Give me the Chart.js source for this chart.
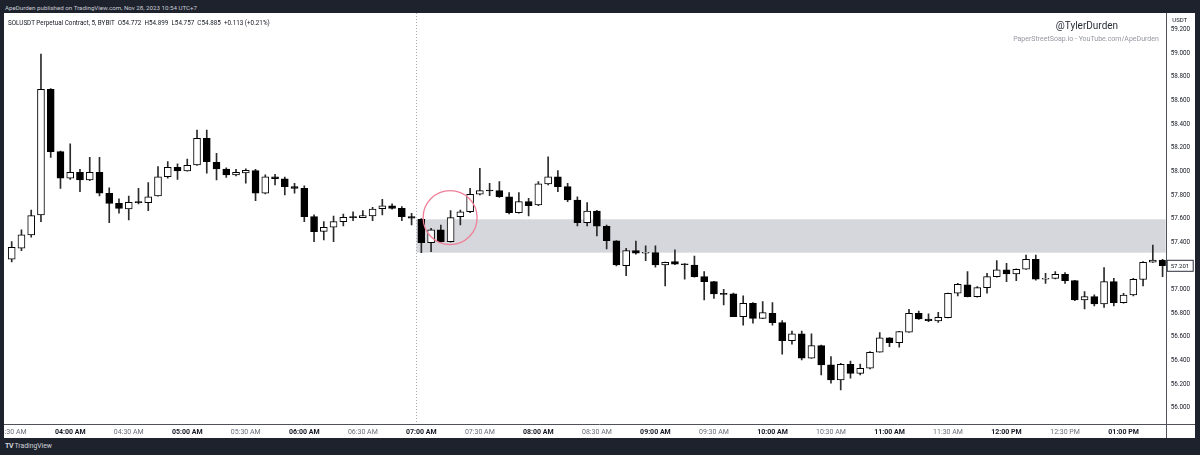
<!DOCTYPE html>
<html><head><meta charset="utf-8">
<script src="https://cdn.jsdelivr.net/npm/chart.js@4.4.0/dist/chart.umd.min.js"></script>
<style>
html,body{margin:0;padding:0;background:#1e222d;width:1200px;height:455px;overflow:hidden;font-family:Roboto,"Noto Sans",sans-serif;}
#top{position:absolute;left:5px;top:5px;font-size:6.2px;line-height:6px;color:#c9ccd4;white-space:pre;}
#panel{position:absolute;left:4px;top:13px;width:1191px;height:425px;background:#fff;}
#c{position:absolute;left:0;top:0;}
#hdr{position:absolute;left:4px;top:6.5px;font-size:6.3px;line-height:6px;color:#131722;white-space:pre;}
#wm1{position:absolute;left:1000px;width:166px;top:8px;text-align:center;font-size:10px;line-height:10px;color:#2a2e39;}
#wm2{position:absolute;left:949px;width:266px;top:23px;text-align:center;font-size:7px;line-height:7px;color:#9598a1;}
#bottom{position:absolute;left:5px;top:443px;font-size:6.8px;line-height:7px;color:#d1d4dc;white-space:pre;}
#bottom b{font-size:7px;letter-spacing:-0.5px;}
</style></head>
<body>
<div id="top">ApeDurden published on TradingView.com, Nov 28, 2023 10:54 UTC+7</div>
<div id="panel">
  <canvas id="c" width="1191" height="425"></canvas>
  <div id="hdr">SOLUSDT Perpetual Contract, 5, BYBIT  O54.772  H54.899  L54.757  C54.885  +0.113 (+0.21%)</div>
  <div id="wm1">@TylerDurden</div>
  <div id="wm2">PaperStreetSoap.io - YouTube.com/ApeDurden</div>
</div>
<div id="bottom"><b>TV</b> TradingView</div>
<script>
// ---- data (5-minute candles, SOLUSDT) ----
const opens = [57.256,57.349,57.462,57.631,58.693,58.166,57.941,57.992,57.926,57.992,57.814,57.729,57.681,57.738,57.735,57.791,57.954,58.034,58.003,58.053,
58.279,58.076,58.019,57.969,57.986,58.005,57.814,57.954,57.937,57.870,57.856,57.616,57.492,57.527,57.574,57.611,57.608,57.622,57.683,57.707,
57.687,57.616,57.594,57.396,57.504,57.405,57.616,57.658,57.806,57.836,57.836,57.785,57.650,57.743,57.715,57.893,57.954,57.870,57.757,57.566,
57.664,57.535,57.413,57.202,57.329,57.307,57.312,57.208,57.236,57.214,57.208,57.109,57.067,56.963,56.963,56.771,56.884,56.757,56.800,56.720,
56.568,56.625,56.419,56.526,56.363,56.236,56.368,56.292,56.335,56.470,56.593,56.551,56.640,56.800,56.751,56.735,56.763,56.969,57.040,56.940,
57.016,57.109,57.166,57.132,57.172,57.256,57.087,57.095,57.129,57.075,56.912,56.940,56.878,57.067,56.889,56.954,57.085,57.231,57.250];
const highs = [57.405,57.504,57.673,58.990,58.700,58.170,58.231,58.017,58.118,58.118,57.861,57.766,57.791,57.856,57.904,58.039,58.081,58.062,58.104,58.349,
58.349,58.152,58.030,58.017,58.020,58.017,57.969,57.975,57.950,57.899,57.876,57.631,57.574,57.622,57.639,57.658,57.667,57.696,57.763,57.724,
57.701,57.645,57.600,57.518,57.546,57.667,57.673,57.856,58.025,57.899,57.912,57.819,57.819,57.772,57.912,58.123,58.005,57.899,57.785,57.735,
57.670,57.545,57.415,57.349,57.410,57.370,57.370,57.233,57.335,57.220,57.284,57.151,57.070,57.003,56.970,56.946,56.890,56.898,56.890,56.737,
56.650,56.650,56.625,56.530,56.433,56.377,56.396,56.371,56.475,56.636,56.595,56.647,56.833,56.819,56.794,56.808,56.970,57.053,57.151,57.025,
57.138,57.244,57.222,57.175,57.292,57.292,57.138,57.151,57.143,57.078,56.982,56.955,57.185,57.095,56.969,57.095,57.236,57.377,57.255];
const lows = [57.233,57.329,57.442,57.574,58.118,57.856,57.932,57.828,57.920,57.791,57.566,57.645,57.588,57.724,57.667,57.790,57.941,57.932,58.000,58.050,
57.983,57.926,57.949,57.960,57.899,57.751,57.808,57.884,57.800,57.814,57.574,57.405,57.419,57.405,57.538,57.582,57.607,57.582,57.631,57.679,
57.582,57.546,57.312,57.320,57.400,57.400,57.546,57.650,57.800,57.794,57.780,57.639,57.645,57.622,57.710,57.884,57.828,57.743,57.538,57.538,
57.453,57.343,57.200,57.117,57.300,57.244,57.189,57.030,57.210,57.087,57.105,56.912,56.926,56.870,56.770,56.700,56.715,56.755,56.700,56.453,
56.538,56.405,56.417,56.278,56.208,56.151,56.250,56.278,56.330,56.470,56.517,56.512,56.638,56.748,56.729,56.723,56.760,56.946,56.938,56.935,
56.969,57.105,57.067,57.075,57.170,57.080,57.053,57.090,57.053,56.906,56.836,56.861,56.850,56.861,56.885,56.946,57.030,57.230,57.109];
const closes = [57.358,57.462,57.625,58.693,58.166,57.941,57.992,57.926,57.992,57.814,57.729,57.687,57.738,57.735,57.785,57.954,58.034,58.003,58.051,58.279,
58.081,58.019,57.969,57.992,58.008,57.814,57.954,57.937,57.870,57.856,57.616,57.489,57.527,57.574,57.611,57.608,57.625,57.681,57.707,57.687,
57.616,57.603,57.396,57.504,57.405,57.608,57.658,57.806,57.836,57.833,57.785,57.650,57.743,57.709,57.893,57.954,57.870,57.757,57.566,57.664,
57.535,57.413,57.208,57.329,57.307,57.315,57.208,57.231,57.214,57.210,57.109,57.067,56.963,56.960,56.771,56.884,56.757,56.805,56.720,56.568,
56.625,56.419,56.526,56.363,56.236,56.368,56.292,56.335,56.470,56.593,56.551,56.644,56.800,56.751,56.737,56.766,56.969,57.045,56.940,57.016,
57.109,57.166,57.132,57.172,57.256,57.087,57.095,57.129,57.075,56.912,56.940,56.878,57.067,56.889,56.954,57.087,57.231,57.250,57.201];
// time-axis labels, one every 6 candles (30 min), first candle = 03:30 AM
const timeTickLabels = ["03:30 AM","04:00 AM","04:30 AM","05:00 AM","05:30 AM","06:00 AM","06:30 AM","07:00 AM","07:30 AM","08:00 AM",
"08:30 AM","09:00 AM","09:30 AM","10:00 AM","10:30 AM","11:00 AM","11:30 AM","12:00 PM","12:30 PM","01:00 PM"];
const candlesPerTick = 6;
const priceTicks = [56.0,56.2,56.4,56.6,56.8,57.0,57.2,57.4,57.6,57.8,58.0,58.2,58.4,58.6,58.8,59.0,59.2];
// annotations
const zoneStartIndex = 42;      // 07:00 AM candle
const zoneLow = 57.312, zoneHigh = 57.594;
const circleIndex = 44.95, circlePrice = 57.608;
const lastPrice = 57.201;

const bodies = opens.map((o,i)=>({x:i, y:[o, closes[i]]}));
const wicks = lows.map((l,i)=>({x:i, y:[l, highs[i]]}));

const annot = {
  id:'annot',
  beforeDatasetsDraw(chart){
    const {ctx, chartArea:a, scales:{x,y}} = chart;
    const x0 = x.getPixelForValue(zoneStartIndex-0.5);
    ctx.save();
    ctx.fillStyle = '#d6d7dc';
    const yt = y.getPixelForValue(zoneHigh), yb = y.getPixelForValue(zoneLow);
    ctx.fillRect(x0, yt, a.right-x0, yb-yt);
    ctx.strokeStyle = '#a6a9b1'; ctx.lineWidth = 1; ctx.setLineDash([1,2]);
    ctx.beginPath(); ctx.moveTo(Math.round(x0)+0.5, 0); ctx.lineTo(Math.round(x0)+0.5, a.bottom); ctx.stroke();
    ctx.restore();
  },
  afterDatasetsDraw(chart){
    const {ctx, chartArea:a, scales:{x,y}} = chart;
    ctx.save();
    ctx.strokeStyle = '#ef7f98'; ctx.lineWidth = 1.3;
    ctx.beginPath(); ctx.arc(x.getPixelForValue(circleIndex), y.getPixelForValue(circlePrice), 27, 0, Math.PI*2); ctx.stroke();
    ctx.restore();
  },
  afterDraw(chart){
    const {ctx, chartArea:a, scales:{y}, width, height} = chart;
    ctx.save();
    // USDT header of price axis
    ctx.fillStyle = '#fff'; ctx.fillRect(a.right+1, 0, width-a.right, 12);
    ctx.fillStyle = '#131722'; ctx.font = '6px Roboto'; ctx.textAlign='center'; ctx.textBaseline='middle';
    ctx.fillText('USDT', a.right+14, 7);
    // axis lines
    ctx.strokeStyle = '#4f525b'; ctx.lineWidth = 1;
    ctx.beginPath();
    ctx.moveTo(Math.round(a.right)+0.5, 0); ctx.lineTo(Math.round(a.right)+0.5, height);
    ctx.moveTo(0, Math.round(a.bottom)+0.5); ctx.lineTo(width, Math.round(a.bottom)+0.5);
    ctx.stroke();
    // last price label
    const py = y.getPixelForValue(lastPrice);
    ctx.fillStyle = '#fff'; ctx.fillRect(a.right+1.5, py-5.5, 26, 11);
    ctx.strokeStyle = '#2a2e39'; ctx.strokeRect(a.right+1.5, py-5.5, 26, 11);
    ctx.fillStyle = '#131722'; ctx.textAlign='left';
    ctx.fillText(lastPrice.toFixed(3), a.right+5, py+0.5);
    ctx.restore();
  }
};

new Chart(document.getElementById('c'), {
  type:'bar',
  data:{datasets:[
    {label:'body', data:bodies, order:0, grouped:false, barThickness:7, borderWidth:1, borderColor:'#000',
     borderSkipped:false, minBarLength:1,
     backgroundColor: c => (c.raw && c.raw.y[1] >= c.raw.y[0]) ? '#ffffff' : '#000000'},
    {label:'wick', data:wicks, order:1, grouped:false, barThickness:1, backgroundColor:'#2b2b2b', borderWidth:0}
  ]},
  options:{
    responsive:false, animation:false,
    layout:{padding:0, autoPadding:false},
    plugins:{legend:{display:false}, tooltip:{enabled:false}},
    scales:{
      x:{type:'linear', min:-0.79, max:118.32, offset:false,
        grid:{display:false, drawTicks:false}, border:{display:false},
        afterBuildTicks: s => { s.ticks = timeTickLabels.map((t,k)=>({value:k*candlesPerTick})); },
        ticks:{autoSkip:false, maxRotation:0, padding:4,
          callback: v => timeTickLabels[Math.round(v/candlesPerTick)],
          font: c => { const l = timeTickLabels[c.index]||''; return {family:'Roboto', size:7, weight: l.includes(':00') ? 'bold' : 'normal'}; },
          color: c => { const l = timeTickLabels[c.index]||''; return l.includes(':00') ? '#131722' : '#6a6d78'; }
        },
        afterFit: s => { s.height = 13.7; s.paddingLeft = 0; s.paddingRight = 0; }
      },
      y:{position:'right', min:55.861, max:59.338,
        grid:{display:false, drawTicks:false}, border:{display:false},
        afterBuildTicks: s => { s.ticks = priceTicks.map(v=>({value:v})); },
        ticks:{padding:5, callback: v => Number(v).toFixed(3), font:{family:'Roboto', size:6.3}, color:'#131722'},
        afterFit: s => { s.width = 29.3; s.paddingTop = 0; s.paddingBottom = 0; }
      }
    }
  },
  plugins:[annot]
});
</script>
</body></html>
